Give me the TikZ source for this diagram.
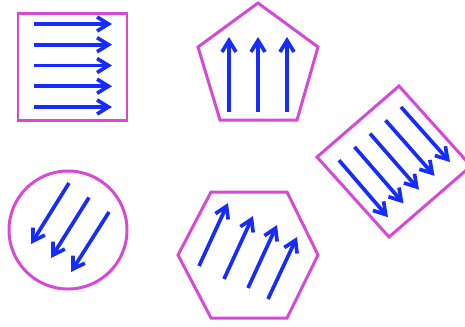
\documentclass[tikz,border=0pt]{standalone}
\usetikzlibrary{arrows.meta}
\definecolor{rim}{RGB}{214,72,214}
\definecolor{vec}{RGB}{22,44,250}
\tikzset{
  frame/.style={draw=rim, line width=1.7pt, line join=miter},
  vecarrow/.style={draw=vec, line width=2.1pt, -{Straight Barb[length=6.5pt,width=8pt]}}
}
\begin{document}
\begin{tikzpicture}[x=0.02cm, y=-0.02cm]
  \useasboundingbox (0,0) rectangle (465,326);
  % square
  \draw[frame] (18,13) rectangle (127,120);
  \foreach \y in {24,44.7,65.5,86.2,107} \draw[vecarrow] (34,\y) -- (112,\y);
  % pentagon
  \draw[frame] (258,3) -- (318,47) -- (297,120) -- (220,120) -- (198,47) -- cycle;
  \foreach \x in {229,258,287} \draw[vecarrow] (\x,112) -- (\x,37);
  % tilted square
  \draw[frame] (399,86) -- (471,166) -- (389,237) -- (317,157) -- cycle;
  \foreach \i in {0,...,4}
    \draw[vecarrow] (401-15.5*\i,107+13.3*\i) -- (450-15.5*\i,162+13.8*\i);
  % circle
  \draw[frame] (68,230) circle (59);
  \foreach \i in {0,1,2}
    \draw[vecarrow] (69+20*\i,183+14.5*\i) -- (31+20*\i,244+14*\i);
  % hexagon
  \draw[frame] (211,192) -- (287,192) -- (318,255) -- (287,318) -- (211,318) -- (178,255) -- cycle;
  \draw[vecarrow] (199,266) -- (228,203);
  \draw[vecarrow] (224,279) -- (253,216);
  \draw[vecarrow] (248,288) -- (277,225);
  \draw[vecarrow] (268,299) -- (297,237);
\end{tikzpicture}
\end{document}
